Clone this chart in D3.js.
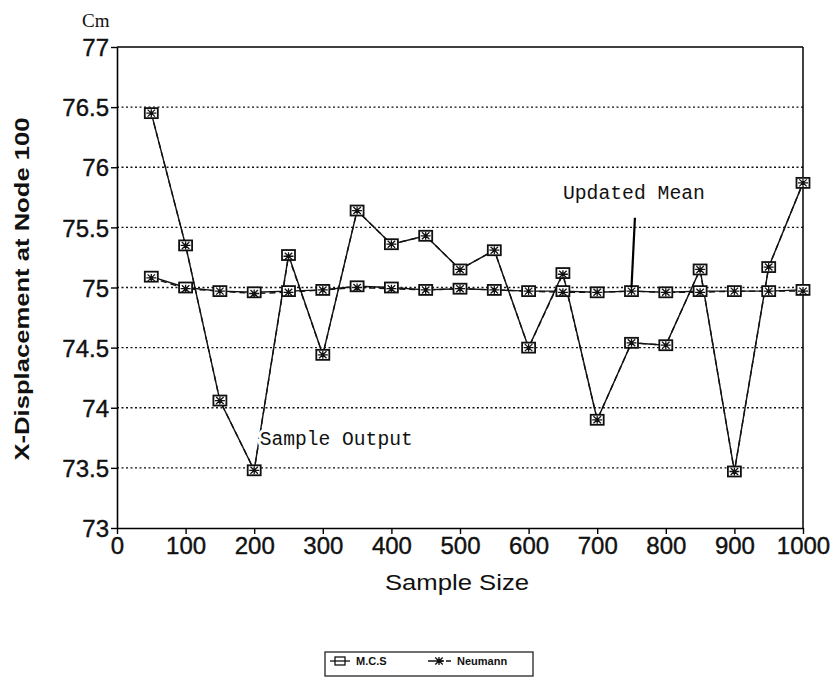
<!DOCTYPE html>
<html>
<head>
<meta charset="utf-8">
<script src="https://cdn.jsdelivr.net/npm/d3@7"></script>
<style>
  body { margin: 0; background: #fff; }
  svg { display: block; }
  .tick text { font-family: "Liberation Sans", Arial, sans-serif; }
</style>
</head>
<body>
<div id="chart-container"></div>
<script>
// Sample sizes on the x axis
var sampleSizes = [50, 100, 150, 200, 250, 300, 350, 400, 450, 500, 550, 600, 650, 700, 750, 800, 850, 900, 950, 1000];

// Sample output (each run)
var mcsOutput = [76.45, 75.35, 74.06, 73.48, 75.27, 74.44, 75.64, 75.36, 75.43, 75.15, 75.31, 74.50, 75.12, 73.90, 74.54, 74.52, 75.15, 73.47, 75.17, 75.87];
var neumannOutput = [76.45, 75.35, 74.06, 73.48, 75.26, 74.44, 75.64, 75.36, 75.43, 75.15, 75.31, 74.50, 75.11, 73.90, 74.54, 74.52, 75.15, 73.47, 75.17, 75.87];

// Updated mean
var mcsMean = [75.09, 75.00, 74.97, 74.96, 74.97, 74.98, 75.01, 75.00, 74.98, 74.99, 74.98, 74.97, 74.97, 74.96, 74.97, 74.96, 74.97, 74.97, 74.97, 74.98];
var neumannMean = [75.08, 74.99, 74.97, 74.95, 74.96, 74.98, 75.00, 74.99, 74.98, 74.99, 74.98, 74.97, 74.96, 74.96, 74.97, 74.96, 74.96, 74.97, 74.97, 74.97];

var xTicks = [0, 100, 200, 300, 400, 500, 600, 700, 800, 900, 1000];
var yTicks = [73, 73.5, 74, 74.5, 75, 75.5, 76, 76.5, 77];
var gridValues = [73.5, 74, 74.5, 75, 75.5, 76, 76.5];

var margin = { top: 47, right: 34, bottom: 159, left: 117 },
  width = 837 - margin.left - margin.right,
  height = 687 - margin.top - margin.bottom;

var svg = d3.select("#chart-container")
  .append("svg")
  .attr("width", 837)
  .attr("height", 687);

var g = svg.append("g")
  .attr("transform", "translate(" + margin.left + "," + margin.top + ")");

var xScale = d3.scaleLinear().domain([0, 1000]).range([0, width]);
var yScale = d3.scaleLinear().domain([73, 77]).range([height, 0]);

// dotted grid lines
g.selectAll(".grid")
  .data(gridValues)
  .enter().append("line")
  .attr("x1", 0).attr("x2", width)
  .attr("y1", function(d) { return yScale(d); })
  .attr("y2", function(d) { return yScale(d); })
  .attr("stroke", "#111")
  .attr("stroke-width", 1.3)
  .attr("stroke-dasharray", "2,2.5");

// frame (top and right)
g.append("line").attr("x1", 0).attr("x2", width).attr("y1", 0).attr("y2", 0)
  .attr("stroke", "#000").attr("stroke-width", 1.5);
g.append("line").attr("x1", width).attr("x2", width).attr("y1", 0).attr("y2", height)
  .attr("stroke", "#000").attr("stroke-width", 1.5);

// axes
var xAxis = g.append("g")
  .attr("transform", "translate(0," + height + ")")
  .call(d3.axisBottom(xScale).tickValues(xTicks).tickSize(6).tickSizeOuter(0).tickPadding(3)
    .tickFormat(d3.format("d")));
var yAxis = g.append("g")
  .call(d3.axisLeft(yScale).tickValues(yTicks).tickSize(6).tickSizeOuter(0).tickPadding(2)
    .tickFormat(function(d) { return d; }));

[xAxis, yAxis].forEach(function(a) {
  a.select(".domain").attr("stroke", "#000").attr("stroke-width", 1.6);
  a.selectAll(".tick line").attr("stroke", "#000").attr("stroke-width", 1.4);
  a.selectAll(".tick text").attr("fill", "#111").style("font-size", "24px")
    .attr("stroke", "#111").attr("stroke-width", 0.4);
});
yAxis.selectAll(".tick text").attr("dy", "0.36em");

// line generators
function lineFor(values) {
  return d3.line()
    .x(function(d, i) { return xScale(sampleSizes[i]); })
    .y(function(d) { return yScale(d); })(values);
}

[mcsOutput, mcsMean].forEach(function(vals) {
  g.append("path").attr("d", lineFor(vals))
    .attr("fill", "none").attr("stroke", "#111").attr("stroke-width", 1.4);
});
[neumannOutput, neumannMean].forEach(function(vals) {
  g.append("path").attr("d", lineFor(vals))
    .attr("fill", "none").attr("stroke", "#111").attr("stroke-width", 1.4)
    .attr("stroke-dasharray", "6,4");
});

// markers
function drawSquare(sel, x, y) {
  sel.append("rect")
    .attr("x", x - 6.5).attr("y", y - 5)
    .attr("width", 13).attr("height", 10)
    .attr("fill", "#fff").attr("stroke", "#111").attr("stroke-width", 1.8);
}
function drawStar(sel, x, y, r) {
  var p = "M" + (x - r) + "," + y + "H" + (x + r) +
    "M" + x + "," + (y - r * 0.8) + "V" + (y + r * 0.8) +
    "M" + (x - r * 0.75) + "," + (y - r * 0.7) + "L" + (x + r * 0.75) + "," + (y + r * 0.7) +
    "M" + (x - r * 0.75) + "," + (y + r * 0.7) + "L" + (x + r * 0.75) + "," + (y - r * 0.7);
  sel.append("path").attr("d", p).attr("fill", "none").attr("stroke", "#111").attr("stroke-width", 1.3);
}

var marks = g.append("g");
[mcsOutput, mcsMean].forEach(function(vals) {
  vals.forEach(function(v, i) { drawSquare(marks, xScale(sampleSizes[i]), yScale(v)); });
});
[neumannOutput, neumannMean].forEach(function(vals) {
  vals.forEach(function(v, i) { drawStar(marks, xScale(sampleSizes[i]), yScale(v), 5); });
});

// annotations
var mono = "'Liberation Mono', 'Courier New', monospace";
g.append("line")
  .attr("x1", xScale(755)).attr("y1", yScale(75.58))
  .attr("x2", xScale(750)).attr("y2", yScale(75.0))
  .attr("stroke", "#000").attr("stroke-width", 2.2);
g.append("text")
  .attr("x", xScale(650)).attr("y", yScale(75.74))
  .attr("font-family", mono).attr("font-size", 20)
  .attr("textLength", 142).attr("lengthAdjust", "spacingAndGlyphs")
  .attr("fill", "#111")
  .text("Updated Mean");

g.append("text")
  .attr("x", xScale(208)).attr("y", yScale(73.69))
  .attr("font-family", mono).attr("font-size", 20)
  .attr("textLength", 153).attr("lengthAdjust", "spacingAndGlyphs")
  .attr("fill", "#111")
  .attr("stroke", "#fff").attr("stroke-width", 6).attr("paint-order", "stroke")
  .text("Sample Output");

// unit label
svg.append("text")
  .attr("x", 82).attr("y", 27)
  .attr("font-family", "'Liberation Serif', 'Times New Roman', serif")
  .attr("font-size", 19).attr("fill", "#111")
  .text("Cm");

// axis titles
svg.append("text")
  .attr("x", margin.left + width / 2 - 3).attr("y", 590)
  .attr("text-anchor", "middle")
  .attr("font-family", "'Liberation Sans', Arial, sans-serif")
  .attr("font-size", 22).attr("fill", "#111")
  .attr("textLength", 144).attr("lengthAdjust", "spacingAndGlyphs")
  .text("Sample Size");

svg.append("text")
  .attr("transform", "translate(29,289) rotate(-90)")
  .attr("text-anchor", "middle")
  .attr("font-family", "'Liberation Sans', Arial, sans-serif")
  .attr("font-weight", "bold")
  .attr("font-size", 20).attr("fill", "#111")
  .attr("textLength", 343).attr("lengthAdjust", "spacingAndGlyphs")
  .text("X-Displacement at Node 100");

// legend
var legend = svg.append("g");
legend.append("rect")
  .attr("x", 325).attr("y", 652).attr("width", 208).attr("height", 24)
  .attr("fill", "#fff").attr("stroke", "#111").attr("stroke-width", 1.2);
legend.append("line").attr("x1", 330).attr("x2", 350).attr("y1", 661).attr("y2", 661)
  .attr("stroke", "#111").attr("stroke-width", 1.3);
legend.append("rect").attr("x", 335).attr("y", 657).attr("width", 10).attr("height", 8)
  .attr("fill", "none").attr("stroke", "#111").attr("stroke-width", 1.3);
legend.append("text").attr("x", 356).attr("y", 665)
  .attr("font-family", "'Liberation Sans', Arial, sans-serif").attr("font-size", 11)
  .attr("font-weight", "bold").attr("fill", "#111").text("M.C.S");
legend.append("line").attr("x1", 428).attr("x2", 451).attr("y1", 661).attr("y2", 661)
  .attr("stroke", "#111").attr("stroke-width", 1.3).attr("stroke-dasharray", "6,3");
drawStar(legend, 439, 661, 5);
legend.append("text").attr("x", 457).attr("y", 665)
  .attr("font-family", "'Liberation Sans', Arial, sans-serif").attr("font-size", 11)
  .attr("font-weight", "bold").attr("fill", "#111").text("Neumann");
</script>
</body>
</html>
